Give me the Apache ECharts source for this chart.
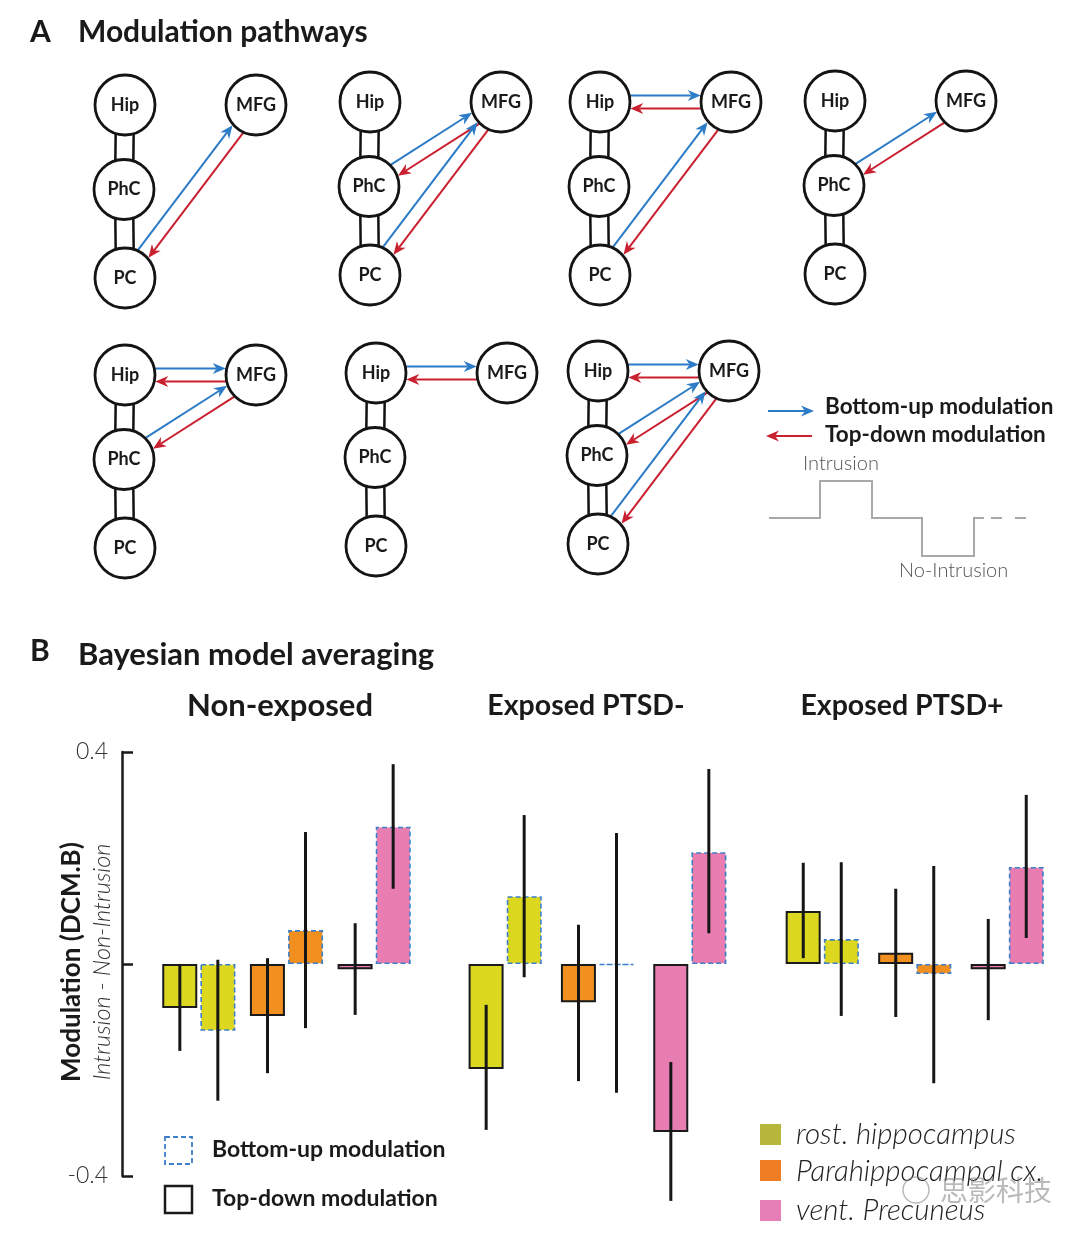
<!DOCTYPE html>
<html><head><meta charset="utf-8">
<script src="https://cdn.jsdelivr.net/npm/echarts@6/dist/echarts.min.js"></script>
<style>html,body{margin:0;padding:0;background:#fff}#c{width:1080px;height:1239px}</style>
</head><body><div id="c"></div>
<script>
// ---------------- DATA ----------------
const groups = ['Non-exposed', 'Exposed PTSD-', 'Exposed PTSD+'];
const regions = ['rost. hippocampus', 'Parahippocampal cx.', 'vent. Precuneus'];
// mean modulation (Intrusion - Non-Intrusion), per group, per region
const topDown = [[-0.083, -0.098, -0.010], [-0.198, -0.072, -0.317], [0.100, 0.021, -0.010]];
const bottomUp = [[-0.126, 0.064, 0.259], [0.128, -0.002, 0.211], [0.047, -0.019, 0.183]];
// credible intervals [low, high]
const topDownCI = [
  [[-0.164, 0.000], [-0.206, 0.011], [-0.096, 0.077]],
  [[-0.313, -0.077], [-0.221, 0.074], [-0.447, -0.185]],
  [[0.011, 0.191], [-0.100, 0.142], [-0.106, 0.085]]
];
const bottomUpCI = [
  [[-0.258, 0.008], [-0.121, 0.249], [0.142, 0.377]],
  [[-0.025, 0.281], [-0.243, 0.247], [0.058, 0.368]],
  [[-0.098, 0.192], [-0.225, 0.185], [0.049, 0.319]]
];
const yTicks = [-0.4, 0, 0.4];
// Panel A: modulation pathways (regions connected to MFG in each model)
const nodeNames = ['Hip', 'PhC', 'PC', 'MFG'];
const pathways = [['PC'], ['PhC', 'PC'], ['Hip', 'PC'], ['PhC'], ['Hip', 'PhC'], ['Hip'], ['Hip', 'PhC', 'PC']];
const legendTexts = ['Bottom-up modulation', 'Top-down modulation'];

// ---------------- LAYOUT / STYLE ----------------
const barColors = ['#dcd820', '#f1901f', '#e87db1'];
const legColors = ['#b6b73a', '#ee7d23', '#e57fb5'];
const BLUE = '#2b7bc6', RED = '#c9202f', DASHBLUE = '#3d80c9';
const FONT = 'Lato, "Noto Sans", sans-serif';
const nodeLocal = { Hip: [0, 0], PhC: [-0.01, 0.845], PC: [0, 1.73], MFG: [1.31, 0] };
const diagramOrigins = [[1.25, 1.05], [3.70, 1.02], [6.00, 1.02], [8.35, 1.01], [1.25, 3.75], [3.76, 3.73], [5.98, 3.71]];
const gridBoxes = [[155, 263], [459, 277], [776, 277.5]];
const titleSizes = [31, 28.5, 28.5];

function np(d, n) { const o = diagramOrigins[d], l = nodeLocal[n]; return [o[0] + l[0], o[1] + l[1]]; }
const nodeData = [], linkData = [];
pathways.forEach((links, d) => {
  nodeNames.forEach(n => { const p = np(d, n); nodeData.push([p[0], p[1], n]); });
  [['Hip', 'PhC'], ['PhC', 'PC']].forEach(([a, b]) => { const p = np(d, a), q = np(d, b); linkData.push([p[0], p[1], q[0], q[1], 0]); });
  links.forEach(r => { const p = np(d, r), q = np(d, 'MFG'); linkData.push([p[0], p[1], q[0], q[1], 1]); });
});

function arrowEls(sx, sy, ex, ey, color) {
  let dx = ex - sx, dy = ey - sy; const L = Math.hypot(dx, dy); dx /= L; dy /= L;
  const nx = dy, ny = -dx, hl = 13, hw = 5.5;
  return [
    { type: 'line', shape: { x1: sx, y1: sy, x2: ex - dx * hl * 0.7, y2: ey - dy * hl * 0.7 }, style: { stroke: color, lineWidth: 2 } },
    { type: 'polygon', shape: { points: [[ex, ey], [ex - dx * hl + nx * hw, ey - dy * hl + ny * hw], [ex - dx * hl * 0.7, ey - dy * hl * 0.7], [ex - dx * hl - nx * hw, ey - dy * hl - ny * hw]] }, style: { fill: color } }
  ];
}
function linkItem(params, api) {
  const p = api.coord([api.value(0), api.value(1)]);
  const q = api.coord([api.value(2), api.value(3)]);
  const kind = api.value(4);
  let dx = q[0] - p[0], dy = q[1] - p[1]; const L = Math.hypot(dx, dy); dx /= L; dy /= L;
  const nx = dy, ny = -dx, R = 30;
  let children = [];
  if (kind === 0) {
    const o = 9, s = Math.sqrt(R * R - o * o);
    [-1, 1].forEach(k => children.push({ type: 'line', shape: { x1: p[0] + nx * o * k + dx * s, y1: p[1] + ny * o * k + dy * s, x2: q[0] + nx * o * k - dx * s, y2: q[1] + ny * o * k - dy * s }, style: { stroke: '#111', lineWidth: 2.5 } }));
  } else {
    const o = 6.5, s = Math.sqrt(R * R - o * o) + 1;
    children = children.concat(arrowEls(p[0] + nx * o + dx * s, p[1] + ny * o + dy * s, q[0] + nx * o - dx * s, q[1] + ny * o - dy * s, BLUE));
    children = children.concat(arrowEls(q[0] - nx * o - dx * s, q[1] - ny * o - dy * s, p[0] - nx * o + dx * s, p[1] - ny * o + dy * s, RED));
  }
  return { type: 'group', children };
}
function errItem(params, api) {
  const c = api.value(0), side = api.value(3);
  const a = api.coord([c, api.value(1)]), b = api.coord([c, api.value(2)]);
  const dx = side === 0 ? -19 : 19;
  return { type: 'line', shape: { x1: a[0] + dx, y1: a[1], x2: b[0] + dx, y2: b[1] }, style: { stroke: '#161616', lineWidth: 3 } };
}

const grids = [], xAxes = [], yAxes = [], series = [];
groups.forEach((g, gi) => {
  grids.push({ left: gridBoxes[gi][0], top: 752, width: gridBoxes[gi][1], height: 424 });
  xAxes.push({ type: 'category', gridIndex: gi, data: regions, show: false });
  yAxes.push({
    type: 'value', gridIndex: gi, min: -0.4, max: 0.4, interval: 0.4, show: gi === 0, offset: 33,
    axisLine: { show: true, lineStyle: { color: '#1a1a1a', width: 2.5 } },
    axisTick: { show: true, inside: true, length: 11, lineStyle: { color: '#1a1a1a', width: 2.5 } },
    splitLine: { show: false },
    axisLabel: { margin: 14, fontSize: 23, fontWeight: 300, color: '#333', fontFamily: FONT, formatter: v => (yTicks.includes(v) && v !== 0) ? String(v) : '' }
  });
  series.push({
    type: 'bar', xAxisIndex: gi, yAxisIndex: gi, data: topDown[gi], barWidth: 35, barGap: '9%',
    itemStyle: { color: p => barColors[p.dataIndex], borderColor: '#1a1a1a', borderWidth: 2 }, silent: true, z: 2
  });
  series.push({
    type: 'bar', xAxisIndex: gi, yAxisIndex: gi, data: bottomUp[gi], barWidth: 35,
    itemStyle: { color: p => barColors[p.dataIndex], borderColor: DASHBLUE, borderWidth: 1.6, borderType: [5, 3] }, silent: true, z: 2
  });
  const err = [];
  regions.forEach((r, ri) => { err.push([ri, topDownCI[gi][ri][0], topDownCI[gi][ri][1], 0]); err.push([ri, bottomUpCI[gi][ri][0], bottomUpCI[gi][ri][1], 1]); });
  series.push({ type: 'custom', xAxisIndex: gi, yAxisIndex: gi, data: err, renderItem: errItem, z: 5, silent: true });
});
// Panel A grid
grids.push({ left: 0, top: 0, width: 1080, height: 600 });
xAxes.push({ type: 'value', gridIndex: 3, min: 0, max: 10.8, show: false });
yAxes.push({ type: 'value', gridIndex: 3, min: 0, max: 6, inverse: true, show: false });
series.push({ type: 'custom', xAxisIndex: 3, yAxisIndex: 3, data: linkData, renderItem: linkItem, z: 3, silent: true });
series.push({
  type: 'scatter', xAxisIndex: 3, yAxisIndex: 3, data: nodeData, symbol: 'circle', symbolSize: 60, z: 6, silent: true,
  itemStyle: { color: '#fff', borderColor: '#141414', borderWidth: 2.8, opacity: 1 },
  label: { show: true, position: 'inside', formatter: p => p.value[2], fontSize: 18, fontWeight: 'bold', color: '#1a1a1a', fontFamily: FONT }
});

const T = (x, y, text, o) => Object.assign({ type: 'text', x, y, style: Object.assign({ text, fill: '#1a1a1a', font: 'bold 30px ' + FONT, textVerticalAlign: 'middle' }, o || {}) });
const graphic = [
  T(30, 32, 'A', { font: 'bold 30px ' + FONT }),
  T(78, 32, 'Modulation pathways', { font: 'bold 30px ' + FONT }),
  T(30, 651, 'B', { font: 'bold 30px ' + FONT }),
  T(78, 655, 'Bayesian model averaging', { font: 'bold 31px ' + FONT }),
  T(280, 706, groups[0], { textAlign: 'center', font: 'bold ' + titleSizes[0] + 'px ' + FONT }),
  T(586, 706, groups[1], { textAlign: 'center', font: 'bold ' + titleSizes[1] + 'px ' + FONT }),
  T(902, 706, groups[2], { textAlign: 'center', font: 'bold ' + titleSizes[2] + 'px ' + FONT }),
  // arrow legend
  { type: 'group', children: arrowEls(768, 411, 814, 411, BLUE).concat(arrowEls(812, 436, 766, 436, RED)) },
  T(825, 407, legendTexts[0], { font: 'bold 22.5px ' + FONT }),
  T(825, 435, legendTexts[1], { font: 'bold 22.5px ' + FONT }),
  { type: 'polyline', shape: { points: [[769, 518], [820, 518], [820, 481], [872, 481], [872, 518], [922, 518], [922, 556], [974, 556], [974, 518], [984, 518]] }, style: { stroke: '#a8a8a8', lineWidth: 2, fill: null } },
  { type: 'line', shape: { x1: 991, y1: 518, x2: 1002, y2: 518 }, style: { stroke: '#a8a8a8', lineWidth: 2 } },
  { type: 'line', shape: { x1: 1015, y1: 518, x2: 1026, y2: 518 }, style: { stroke: '#a8a8a8', lineWidth: 2 } },
  T(803, 464, 'Intrusion', { font: '300 20px ' + FONT, fill: '#555' }),
  T(899, 571, 'No-Intrusion', { font: '300 20px ' + FONT, fill: '#555' }),
  // y axis title
  { type: 'text', x: 72, y: 962, rotation: Math.PI / 2, style: { text: 'Modulation (DCM.B)', font: 'bold 26px ' + FONT, fill: '#1a1a1a', textAlign: 'center', textVerticalAlign: 'middle' } },
  { type: 'text', x: 102, y: 962, rotation: Math.PI / 2, style: { text: 'Intrusion - Non-Intrusion', font: 'italic 300 23.5px ' + FONT, fill: '#333', textAlign: 'center', textVerticalAlign: 'middle' } },
  // modulation legend
  { type: 'rect', shape: { x: 165, y: 1137, width: 27, height: 27 }, style: { fill: null, stroke: DASHBLUE, lineWidth: 1.8, lineDash: [5, 3] } },
  T(212, 1150, legendTexts[0], { font: 'bold 23px ' + FONT }),
  { type: 'rect', shape: { x: 165, y: 1186, width: 27, height: 27 }, style: { fill: null, stroke: '#1a1a1a', lineWidth: 2.5 } },
  T(212, 1199, legendTexts[1], { font: 'bold 23px ' + FONT }),
  // region legend
  { type: 'rect', shape: { x: 760, y: 1124, width: 21, height: 21 }, style: { fill: legColors[0] } },
  { type: 'rect', shape: { x: 760, y: 1160, width: 21, height: 21 }, style: { fill: legColors[1] } },
  { type: 'rect', shape: { x: 760, y: 1200, width: 21, height: 21 }, style: { fill: legColors[2] } },
  T(796, 1134, regions[0], { font: 'italic 300 29.5px ' + FONT, fill: '#222' }),
  T(796, 1171, regions[1], { font: 'italic 300 29.5px ' + FONT, fill: '#222' }),
  T(796, 1210, regions[2], { font: 'italic 300 29.5px ' + FONT, fill: '#222' }),
  // watermark
  { type: 'circle', shape: { cx: 916, cy: 1190, r: 13 }, style: { fill: null, stroke: 'rgba(130,130,130,0.55)', lineWidth: 1.5 }, z: 100 },
  T(940, 1190, '思影科技', { font: '28px "Noto Sans CJK SC"', fill: 'rgba(130,130,130,0.55)' })
];

const chart = echarts.init(document.getElementById('c'));
chart.setOption({ animation: false, backgroundColor: '#fff', grid: grids, xAxis: xAxes, yAxis: yAxes, series, graphic });
</script></body></html>
